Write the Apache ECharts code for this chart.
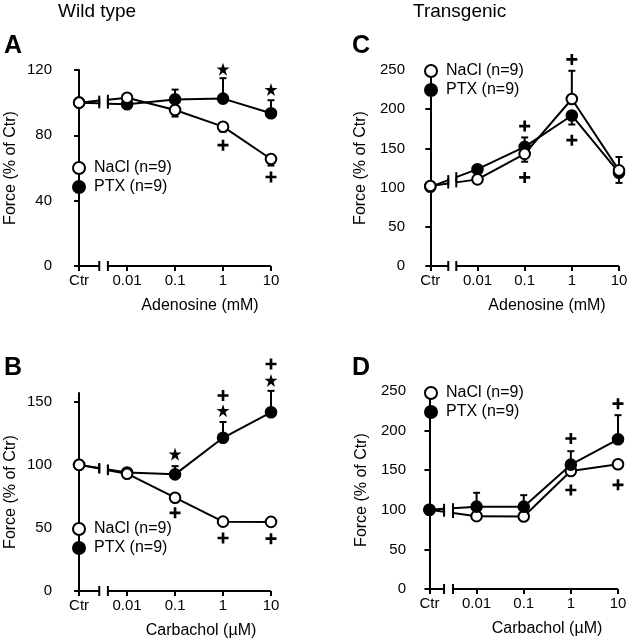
<!DOCTYPE html>
<html>
<head>
<meta charset="utf-8">
<title>Force (% of Ctr)</title>
<script src="https://cdn.jsdelivr.net/npm/echarts@6/dist/echarts.min.js"></script>
<style>
    html, body { margin: 0; padding: 0; background: #fff; }
    #main { width: 632px; height: 640px; }
</style>
</head>
<body>
<div id="main"></div>
<script>
    // x positions: 0 = Ctr, 1..4 = 0.01, 0.1, 1, 10
    var xLabels = ['Ctr', '0.01', '0.1', '1', '10'];
    var seriesNames = ['NaCl (n=9)', 'PTX (n=9)'];

    // A - wild type, adenosine (mM)
    var aNaCl = [100, 103, 95.5, 85.3, 65.5];
    var aNaClErr = [0, 0, -4, -3, -4];
    var aPTX = [100, 99, 102, 102.5, 93.5];
    var aPTXErr = [0, 0, 6, 12.5, 8];
    var aStars = [[3, 120.5], [4, 108]];
    var aPlus = [[3, 74], [4, 54.5]];

    // B - wild type, carbachol (uM)
    var bNaCl = [100, 93, 74, 55, 54.8];
    var bNaClErr = [0, 0, 0, 0, 0];
    var bPTX = [100, 94, 92.5, 121.5, 141.7];
    var bPTXErr = [0, 0, 6.5, 12.5, 17];
    var bStars = [[2, 108.5], [3, 143], [4, 167]];
    var bPlus = [[2, 62], [3, 155], [4, 180], [3, 42], [4, 41.5]];

    // C - transgenic, adenosine (mM)
    var cNaCl = [102, 110.5, 143, 213, 122];
    var cNaClErr = [0, 0, -10, 36, 17];
    var cPTX = [101, 123.5, 152, 192, 119];
    var cPTXErr = [0, 0, 12, -11.5, -13];
    var cStars = [];
    var cPlus = [[2, 178.5], [2, 113], [3, 263.5], [3, 160.5]];

    // D - transgenic, carbachol (uM)
    var dNaCl = [100, 92, 91.5, 149, 157.5];
    var dNaClErr = [0, 0, 0, 0, 0];
    var dPTX = [100, 104, 104, 157, 189];
    var dPTXErr = [0, 17.5, 14.5, 17, 30.5];
    var dStars = [];
    var dPlus = [[3, 190], [3, 125], [4, 234], [4, 131.5]];

    var FONT = '"Liberation Sans", Arial, Helvetica, sans-serif';
    var STAR = 'path://M5,0L6.18,3.8L10,3.8L6.91,6.1L8.09,10L5,7.6L1.91,10L3.09,6.1L0,3.8L3.82,3.8Z';
    var PLUS = 'path://M3.8,0H6.2V3.8H10V6.2H6.2V10H3.8V6.2H0V3.8H3.8Z';

    var panels = [
        { grid: {left: 58, top: 70, width: 213, height: 196}, xMin: -0.44, yMax: 120, yTicks: [0, 40, 80, 120],
          brk: [0.42, 0.6], xName: 'Adenosine (mM)', namePad: 71, yNameGap: 39,
          nacl: aNaCl, naclErr: aNaClErr, ptx: aPTX, ptxErr: aPTXErr, stars: aStars, plus: aPlus,
          ptxOnTop: false, legend: {left: 72, top: 160} },
        { grid: {left: 58, top: 393, width: 213, height: 198}, xMin: -0.44, yMax: 157, yTicks: [0, 50, 100, 150],
          brk: [0.42, 0.6], xName: 'Carbachol (µM)', namePad: 73, yNameGap: 39,
          nacl: bNaCl, naclErr: bNaClErr, ptx: bPTX, ptxErr: bPTXErr, stars: bStars, plus: bPlus,
          ptxOnTop: false, legend: {left: 72, top: 521} },
        { grid: {left: 411, top: 70, width: 208, height: 196}, xMin: -0.41, yMax: 250, yTicks: [0, 50, 100, 150, 200, 250],
          brk: [0.38, 0.55], xName: 'Adenosine (mM)', namePad: 64, yNameGap: 42,
          nacl: cNaCl, naclErr: cNaClErr, ptx: cPTX, ptxErr: cPTXErr, stars: cStars, plus: cPlus,
          ptxOnTop: false, legend: {left: 424, top: 63} },
        { grid: {left: 412, top: 391, width: 206, height: 198}, xMin: -0.37, yMax: 250, yTicks: [0, 50, 100, 150, 200, 250],
          brk: [0.31, 0.5], xName: 'Carbachol (µM)', namePad: 64, yNameGap: 42,
          nacl: dNaCl, naclErr: dNaClErr, ptx: dPTX, ptxErr: dPTXErr, stars: dStars, plus: dPlus,
          ptxOnTop: true, legend: {left: 424, top: 385} }
    ];

    var chart = echarts.init(document.getElementById('main'));

    var lineStyle = {stroke: '#000', lineWidth: 2};

    function seg(p, q) {
        return {type: 'line', shape: {x1: p[0], y1: p[1], x2: q[0], y2: q[1]}, style: lineStyle};
    }
    function vbar(p) {
        return seg([p[0], p[1] - 5], [p[0], p[1] + 5]);
    }

    var grids = [], xAxes = [], yAxes = [], series = [], legends = [];

    panels.forEach(function (p, i) {
        grids.push(p.grid);

        xAxes.push({
            gridIndex: i, type: 'value', min: p.xMin, max: 4,
            axisLine: {show: false},
            splitLine: {show: false},
            axisTick: {show: true, customValues: [0, 1, 2, 3, 4], length: 5, lineStyle: {color: '#000', width: 2}},
            axisLabel: {
                customValues: [0, 1, 2, 3, 4], color: '#000', fontSize: 15, fontFamily: FONT, margin: 7,
                formatter: function (v) { return xLabels[Math.round(v)]; }
            },
            name: p.xName, nameLocation: 'middle', nameGap: 32,
            nameTextStyle: {color: '#000', fontSize: 16, fontFamily: FONT, padding: [0, 0, 0, p.namePad]}
        });

        yAxes.push({
            gridIndex: i, type: 'value', min: 0, max: p.yMax,
            axisLine: {show: true, lineStyle: {color: '#000', width: 2}},
            axisTick: {show: true, customValues: p.yTicks, length: 5, lineStyle: {color: '#000', width: 2}},
            axisLabel: {customValues: p.yTicks, color: '#000', fontSize: 15, fontFamily: FONT, margin: 6},
            splitLine: {show: false},
            name: 'Force (% of Ctr)', nameLocation: 'middle', nameGap: p.yNameGap,
            nameTextStyle: {color: '#000', fontSize: 16, fontFamily: FONT}
        });

        // broken x axis
        series.push({
            type: 'custom', xAxisIndex: i, yAxisIndex: i, z: 1, silent: true, data: [0],
            renderItem: function (params, api) {
                var a = api.coord([0, 0]), b = api.coord([p.brk[0], 0]);
                var c = api.coord([p.brk[1], 0]), d = api.coord([4, 0]);
                return {type: 'group', children: [seg(a, b), seg(c, d), vbar(b), vbar(c)]};
            }
        });

        var sets = [
            {name: seriesNames[0], vals: p.nacl, err: p.naclErr, fill: '#fff', z: p.ptxOnTop ? 3 : 5},
            {name: seriesNames[1], vals: p.ptx, err: p.ptxErr, fill: '#000', z: p.ptxOnTop ? 5 : 3}
        ];

        sets.forEach(function (s) {
            // error bars
            var errData = [];
            s.err.forEach(function (e, k) { if (e !== 0) errData.push([k, s.vals[k], e]); });
            series.push({
                type: 'custom', xAxisIndex: i, yAxisIndex: i, z: 2, silent: true, data: errData,
                renderItem: function (params, api) {
                    var x = api.value(0), v = api.value(1), e = api.value(2);
                    var pt = api.coord([x, v]), tp = api.coord([x, v + e]);
                    return {type: 'group', children: [seg(pt, tp), seg([tp[0] - 3.5, tp[1]], [tp[0] + 3.5, tp[1]])]};
                }
            });

            // Ctr point and broken link to 0.01
            series.push({
                type: 'custom', xAxisIndex: i, yAxisIndex: i, z: s.z, silent: true,
                data: [[0, s.vals[0], s.vals[1]]],
                renderItem: function (params, api) {
                    var p0 = api.coord([0, api.value(1)]), p1 = api.coord([1, api.value(2)]);
                    function at(t) { return [p0[0] + (p1[0] - p0[0]) * t, p0[1] + (p1[1] - p0[1]) * t]; }
                    var b1 = at(p.brk[0]), b2 = at(p.brk[1]);
                    return {type: 'group', children: [
                        seg(p0, b1), seg(b2, p1), vbar(b1), vbar(b2),
                        {type: 'circle', shape: {cx: p0[0], cy: p0[1], r: 5.3},
                         style: {fill: s.fill, stroke: '#000', lineWidth: 2}}
                    ]};
                }
            });

            // dose points
            series.push({
                name: s.name, type: 'line', xAxisIndex: i, yAxisIndex: i, z: s.z + 0.5,
                data: s.vals.slice(1).map(function (v, k) { return [k + 1, v]; }),
                symbol: 'circle', symbolSize: 10.6, showSymbol: true, clip: false,
                lineStyle: {color: '#000', width: 2},
                itemStyle: {color: s.fill, borderColor: '#000', borderWidth: 2},
                emphasis: {disabled: true}
            });
        });

        series.push({
            type: 'scatter', xAxisIndex: i, yAxisIndex: i, z: 7, silent: true, clip: false,
            data: p.stars, symbol: STAR, symbolSize: 13, itemStyle: {color: '#000', opacity: 1}
        });
        series.push({
            type: 'scatter', xAxisIndex: i, yAxisIndex: i, z: 7, silent: true, clip: false,
            data: p.plus, symbol: PLUS, symbolSize: 11, itemStyle: {color: '#000', opacity: 1}
        });

        legends.push({
            data: seriesNames, orient: 'vertical', left: p.legend.left, top: p.legend.top,
            padding: 0, itemGap: 3, itemWidth: 12, itemHeight: 12, icon: 'circle', selectedMode: false,
            itemStyle: {borderColor: '#000', borderWidth: 2},
            textStyle: {color: '#000', fontSize: 16, fontFamily: FONT, padding: [3, 0, 0, 4]}
        });
    });

    function label(txt, x, y, size, bold) {
        return {type: 'text', x: x, y: y, silent: true,
            style: {text: txt, fill: '#000', fontSize: size, fontFamily: FONT,
                    fontWeight: bold ? 'bold' : 'normal', verticalAlign: 'middle'}};
    }

    chart.setOption({
        animation: false,
        backgroundColor: '#fff',
        grid: grids,
        xAxis: xAxes,
        yAxis: yAxes,
        legend: legends,
        series: series,
        graphic: [
            label('Wild type', 58, 12, 19, false),
            label('Transgenic', 413, 12, 19, false),
            label('A', 4, 46, 25, true),
            label('B', 4, 368, 25, true),
            label('C', 352, 46, 25, true),
            label('D', 352, 368, 25, true)
        ]
    });
</script>
</body>
</html>
